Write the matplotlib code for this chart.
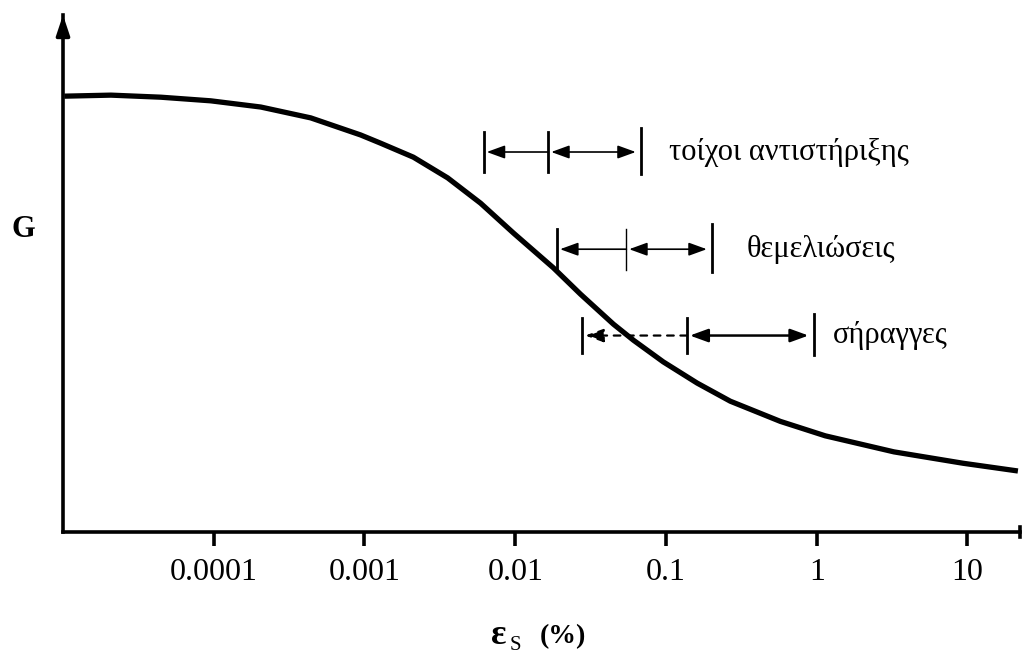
import matplotlib
matplotlib.use("Agg")
import matplotlib.pyplot as plt

# ---- data ----
strain = [1.02e-5, 2.08e-5, 4.46e-5, 9.55e-5, 2.05e-4, 4.40e-4, 9.42e-4,
          1.28e-3, 2.11e-3, 3.56e-3, 5.89e-3, 9.75e-3, 1.79e-2, 2.71e-2,
          4.48e-2, 6.08e-2, 9.60e-2, 0.161, 0.267, 0.573, 1.14, 3.25,
          9.33, 21.6]
G_norm = [0.843, 0.845, 0.841, 0.834, 0.822, 0.801, 0.768,
          0.752, 0.725, 0.685, 0.636, 0.578, 0.511, 0.460,
          0.402, 0.371, 0.329, 0.288, 0.253, 0.214, 0.186, 0.155,
          0.133, 0.118]

tick_vals = [1e-4, 1e-3, 1e-2, 1e-1, 1, 10]
tick_labels = ["0.0001", "0.001", "0.01", "0.1", "1", "10"]

categories = ["τοίχοι αντιστήριξης", "θεμελιώσεις", "σήραγγες"]
range_left = [0.0062, 0.019, 0.0279]
range_mid = [0.0166, 0.0546, 0.138]
range_right = [0.0686, 0.203, 0.96]
range_level = [0.735, 0.547, 0.380]

SERIF = "Liberation Serif"
plt.rcParams["font.family"] = [SERIF, "DejaVu Serif"]

W, H = 1022, 655
fig = plt.figure(figsize=(W / 100, H / 100), dpi=100)
ax = fig.add_axes([63 / W, (H - 532) / H, (1020 - 63) / W, (532 - 15) / H])
ax.set_xscale("log")
ax.set_xlim(1.0e-5, 22.3)
ax.set_ylim(0, 1)

# curve
ax.plot(strain, G_norm, color="black", lw=3.8, solid_joinstyle="round",
        solid_capstyle="butt", zorder=3)

# axes styling
for s in ["top", "right"]:
    ax.spines[s].set_visible(False)
for s in ["left", "bottom"]:
    ax.spines[s].set_linewidth(2.6)
ax.set_yticks([])
ax.set_xticks(tick_vals)
ax.set_xticklabels(tick_labels, fontsize=23)
ax.xaxis.set_minor_locator(matplotlib.ticker.NullLocator())
ax.tick_params(axis="x", direction="out", length=10, width=2.6, pad=9)

# y axis arrowhead and x axis end cap
ax.annotate("", xy=(0, 1.0), xytext=(0, 0.96), xycoords="axes fraction",
            arrowprops=dict(arrowstyle="-|>,head_length=1.2,head_width=0.4",
                            mutation_scale=10, lw=2.6, color="black",
                            shrinkA=0, shrinkB=0), annotation_clip=False)
ax.plot([1, 1], [-0.01, 0.01], transform=ax.transAxes, color="black",
        lw=2.6, clip_on=False)

# ranges
half = [0.039, 0.040, 0.034]
head = "head_length=1.1,head_width=0.4"
text_x = [0.105, 0.345, 1.28]
for i, cat in enumerate(categories):
    y = range_level[i]
    h = half[i]
    # bars
    ax.plot([range_left[i]] * 2, [y - h, y + h], color="black", lw=2.0)
    ax.plot([range_mid[i]] * 2, [y - h, y + h], color="black",
            lw=2.0 if i != 1 else 1.0)
    ax.plot([range_right[i]] * 2, [y - h - 0.004, y + h + 0.008],
            color="black", lw=2.0)
    # left segment (arrow to left only)
    ls = (0, (3, 3)) if i == 2 else "-"
    ax.annotate("", xy=(range_left[i], y), xytext=(range_mid[i], y),
                arrowprops=dict(arrowstyle="-|>," + head, mutation_scale=10,
                                lw=1.2 if i != 2 else 1.6, color="black",
                                linestyle=ls, shrinkA=0, shrinkB=2))
    # right segment (double arrow)
    ax.annotate("", xy=(range_right[i], y), xytext=(range_mid[i], y),
                arrowprops=dict(arrowstyle="<|-|>," + head, mutation_scale=10,
                                lw=1.2 if i != 2 else 1.8, color="black",
                                shrinkA=2, shrinkB=4))
    ax.text(text_x[i], y, cat, fontsize=22, va="center", ha="left")

# axis labels
fig.text(23 / W, 1 - 230 / H, "G", fontsize=22, fontweight="bold",
         ha="center", va="center")
fig.text(499 / W, 1 - 636 / H, "ε", fontsize=26, fontweight="bold",
         ha="center", va="center")
fig.text(515 / W, 1 - 645 / H, "S", fontsize=15, ha="center", va="center")
fig.text(563 / W, 1 - 637 / H, "(%)", fontsize=20, fontweight="bold",
         ha="center", va="center")

fig.savefig("out.png", dpi=100)
